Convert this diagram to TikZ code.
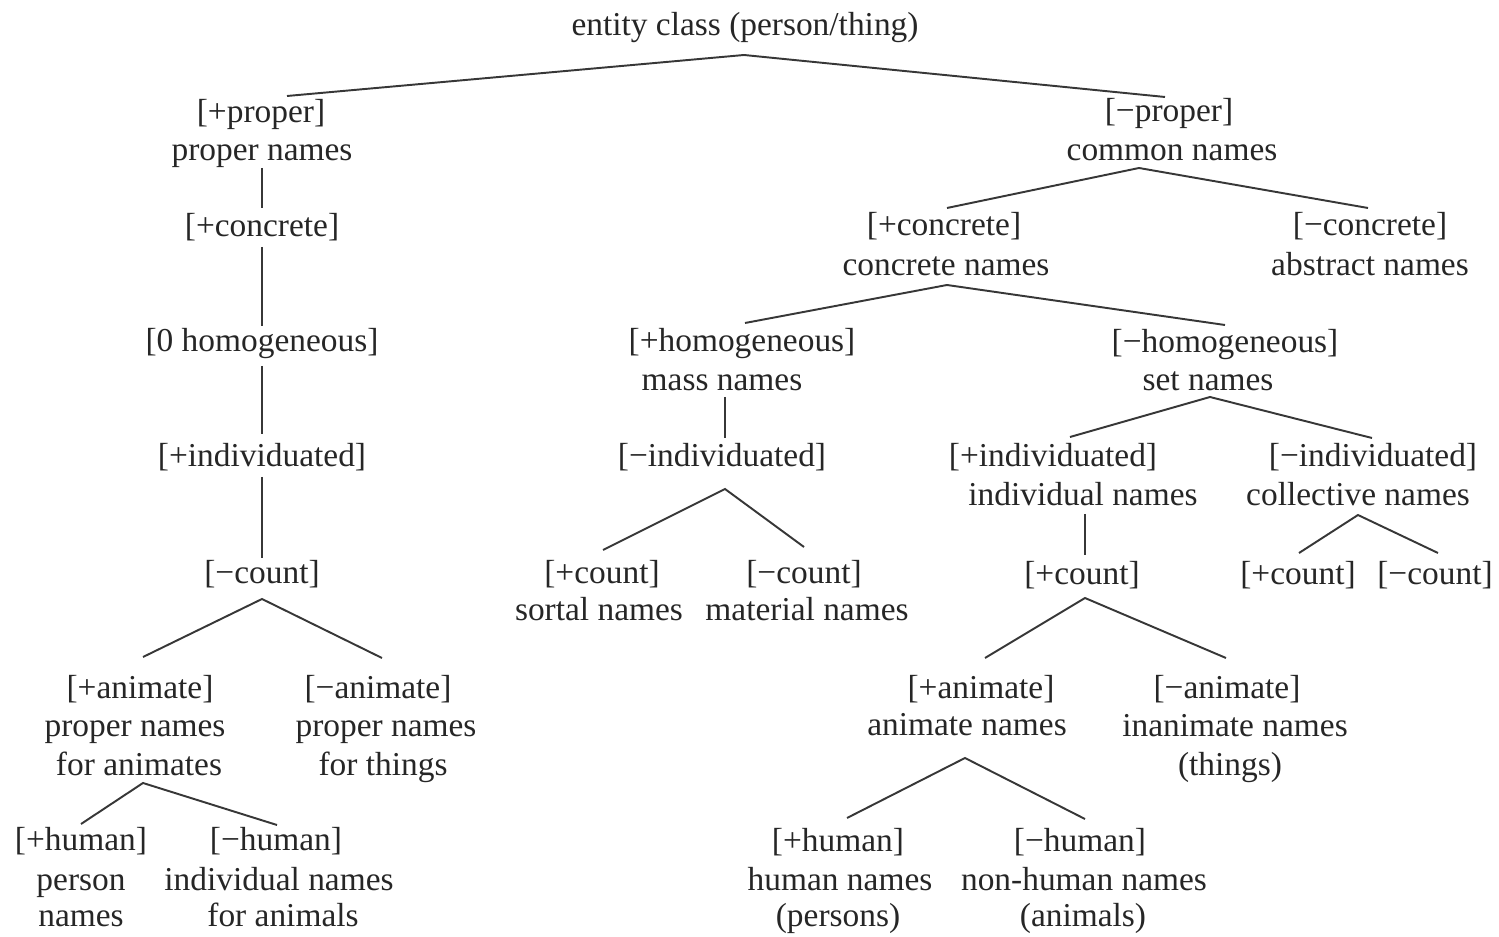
\documentclass[tikz,border=0pt]{standalone}
\usepackage{fontspec}
\setmainfont{Liberation Serif}
\usetikzlibrary{calc}
\definecolor{txtc}{RGB}{38,38,38}
\definecolor{linec}{RGB}{55,55,55}
\tikzset{
  lbl/.style={inner sep=0pt, text height=6.6pt, text depth=1.9pt, text=txtc,
    font=\fontsize{9.5pt}{11pt}\selectfont},
  edge/.style={draw=linec, line width=0.55pt}
}
\begin{document}
\begin{tikzpicture}[x=0.01cm,y=-0.01cm]
\useasboundingbox (0,0) rectangle (1499,937);
% left branch
\node[lbl] (root) at (745,27) {entity class (person/thing)};
\node[lbl] (pp1) at (261,114) {[+proper]};
\node[lbl] (pp2) at (262,152) {proper names};
\node[lbl] (pc) at (262,228) {[+concrete]};
\node[lbl] (p0h) at (262,343) {[0 homogeneous]};
\node[lbl] (pind) at (262,458) {[+individuated]};
\node[lbl] (pcnt) at (262,575) {[−count]};
\node[lbl] (pa1) at (140,690) {[+animate]};
\node[lbl] (pa2) at (135,728) {proper names};
\node[lbl] (pa3) at (139,767) {for animates};
\node[lbl] (pn1) at (378,690) {[−animate]};
\node[lbl] (pn2) at (386,728) {proper names};
\node[lbl] (pn3) at (383,767) {for things};
\node[lbl] (ph1) at (81,842) {[+human]};
\node[lbl] (ph2) at (81,882) {person};
\node[lbl] (ph3) at (81,918) {names};
\node[lbl] (pnh1) at (276,842) {[−human]};
\node[lbl] (pnh2) at (279,882) {individual names};
\node[lbl] (pnh3) at (283,918) {for animals};
% right branch
\node[lbl] (mp1) at (1169,113) {[−proper]};
\node[lbl] (mp2) at (1172,152) {common names};
\node[lbl] (cc1) at (944,227) {[+concrete]};
\node[lbl] (cc2) at (946,267) {concrete names};
\node[lbl] (ca1) at (1370,227) {[−concrete]};
\node[lbl] (ca2) at (1370,267) {abstract names};
\node[lbl] (hm1) at (742,343) {[+homogeneous]};
\node[lbl] (hm2) at (722,382) {mass names};
\node[lbl] (mi) at (722,458) {[−individuated]};
\node[lbl] (sc1) at (602,575) {[+count]};
\node[lbl] (sc2) at (599,612) {sortal names};
\node[lbl] (mc1) at (804,575) {[−count]};
\node[lbl] (mc2) at (807,612) {material names};
\node[lbl] (nh1) at (1225,344) {[−homogeneous]};
\node[lbl] (nh2) at (1208,382) {set names};
\node[lbl] (ii1) at (1053,458) {[+individuated]};
\node[lbl] (ii2) at (1083,497) {individual names};
\node[lbl] (ni1) at (1373,458) {[−individuated]};
\node[lbl] (ni2) at (1358,497) {collective names};
\node[lbl] (ic) at (1082,576) {[+count]};
\node[lbl] (colp) at (1298,576) {[+count]};
\node[lbl] (coln) at (1435,576) {[−count]};
\node[lbl] (an1) at (981,690) {[+animate]};
\node[lbl] (an2) at (967,727) {animate names};
\node[lbl] (in1) at (1227,690) {[−animate]};
\node[lbl] (in2) at (1235,728) {inanimate names};
\node[lbl] (in3) at (1230,767) {(things)};
\node[lbl] (hu1) at (838,843) {[+human]};
\node[lbl] (hu2) at (840,882) {human names};
\node[lbl] (hu3) at (838,918) {(persons)};
\node[lbl] (nhu1) at (1080,843) {[−human]};
\node[lbl] (nhu2) at (1084,882) {non-human names};
\node[lbl] (nhu3) at (1083,918) {(animals)};
% connectors
\draw[edge] ($(pp1)+(26,-18)$) -- ($(root)+(-1,28)$) -- ($(mp1)+(-4,-16)$);
\draw[edge] ($(pp2)+(0,16)$) -- ($(pc)+(0,-20)$);
\draw[edge] ($(pc)+(0,19)$) -- ($(p0h)+(0,-17)$);
\draw[edge] ($(p0h)+(0,23)$) -- ($(pind)+(0,-24)$);
\draw[edge] ($(pind)+(0,19)$) -- ($(pcnt)+(0,-17)$);
\draw[edge] ($(pa1)+(3,-33)$) -- ($(pcnt)+(0,24)$) -- ($(pn1)+(4,-32)$);
\draw[edge] ($(ph1)+(0,-18)$) -- ($(pa3)+(4,16)$) -- ($(pnh1)+(1,-17)$);
\draw[edge] ($(cc1)+(3,-19)$) -- ($(mp2)+(-33,16)$) -- ($(ca1)+(-2,-19)$);
\draw[edge] ($(hm1)+(3,-20)$) -- ($(cc2)+(1,18)$) -- ($(nh1)+(0,-19)$);
\draw[edge] ($(hm2)+(3,15)$) -- ($(mi)+(3,-20)$);
\draw[edge] ($(sc1)+(1,-25)$) -- ($(mi)+(3,31)$) -- ($(mc1)+(0,-28)$);
\draw[edge] ($(ii1)+(17,-21)$) -- ($(nh2)+(2,15)$) -- ($(ni1)+(-1,-20)$);
\draw[edge] ($(ii2)+(2,17)$) -- ($(ic)+(3,-21)$);
\draw[edge] ($(an1)+(4,-32)$) -- ($(ic)+(3,22)$) -- ($(in1)+(-1,-32)$);
\draw[edge] ($(colp)+(1,-23)$) -- ($(ni2)+(0,18)$) -- ($(coln)+(3,-23)$);
\draw[edge] ($(hu1)+(9,-25)$) -- ($(an2)+(-2,31)$) -- ($(nhu1)+(5,-24)$);
\end{tikzpicture}
\end{document}
